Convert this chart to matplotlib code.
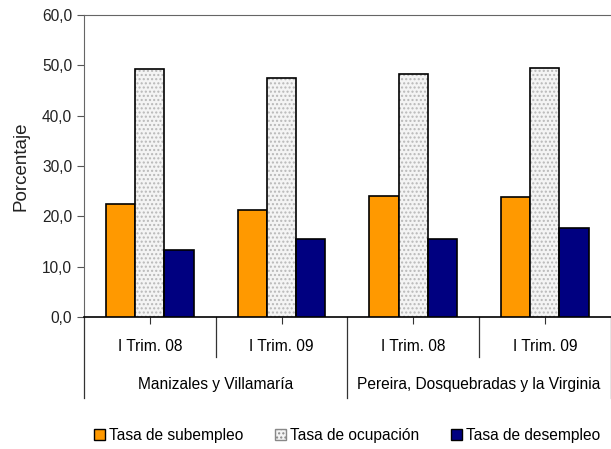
import matplotlib
matplotlib.use("Agg")
import matplotlib.pyplot as plt
from matplotlib.patches import Patch

plt.rcParams["font.family"] = ["Liberation Sans", "DejaVu Sans"]

periods = ["I Trim. 08", "I Trim. 09", "I Trim. 08", "I Trim. 09"]
regions = ["Manizales y Villamaría", "Pereira, Dosquebradas y la Virginia"]
subempleo = [22.4, 21.3, 24.1, 23.8]
ocupacion = [49.2, 47.5, 48.3, 49.5]
desempleo = [13.4, 15.4, 15.4, 17.6]
series_names = ["Tasa de subempleo", "Tasa de ocupación", "Tasa de desempleo"]

ORANGE = "#ff9900"
NAVY = "#000080"
W = 0.222
FS = 11.2

fig = plt.figure(figsize=(6.11, 4.49), dpi=100)
ax = fig.add_axes([0.1375, 0.294, 0.862, 0.673])

x = list(range(len(periods)))
ax.bar([i - W for i in x], subempleo, W, color=ORANGE, edgecolor="black", linewidth=1.2, zorder=3)
# dotted grey bar: hatch drawn first, outline on top
ax.bar(x, ocupacion, W, color="#f4f4f4", edgecolor="#b8b8b8", hatch="....", linewidth=0, zorder=3)
ax.bar(x, ocupacion, W, fill=False, edgecolor="black", linewidth=1.2, zorder=4)
ax.bar([i + W for i in x], desempleo, W, color=NAVY, edgecolor="black", linewidth=1.2, zorder=3)

ax.set_xlim(-0.5, len(periods) - 0.5)
ax.set_ylim(0, 60)
ax.set_yticks(range(0, 61, 10))
ax.set_yticklabels([f"{v},0" for v in range(0, 61, 10)], fontsize=FS, color="#222222")
ax.set_ylabel("Porcentaje", fontsize=13.5, labelpad=9, color="#222222")

ax.set_xticks(x)
ax.set_xticklabels([])
ax.tick_params(axis="x", length=5, color="#333333")
ax.tick_params(axis="y", length=5, color="#555555")

for s in ["left", "top", "right"]:
    ax.spines[s].set_color("#666666")
ax.spines["bottom"].set_color("black")
ax.spines["bottom"].set_linewidth(1.2)
ax.spines["right"].set_visible(False)

trans = ax.get_xaxis_transform()
for b, depth in [(-0.5, -0.268), (0.5, -0.1325), (1.5, -0.268), (2.5, -0.1325), (3.5, -0.268)]:
    ax.plot([b, b], [0, depth], transform=trans, color="#333333", lw=0.9, clip_on=False)

for i, p in enumerate(periods):
    ax.text(i, -0.099, p, transform=trans, ha="center", va="center", fontsize=FS)
for j, r in enumerate(regions):
    ax.text(2 * j + 0.5, -0.225, r, transform=trans, ha="center", va="center", fontsize=FS)

handles = [
    Patch(facecolor=ORANGE, edgecolor="black"),
    Patch(facecolor="#f4f4f4", edgecolor="#888888", hatch="...."),
    Patch(facecolor=NAVY, edgecolor="black"),
]
fig.legend(handles, series_names, loc="center", bbox_to_anchor=(0.568, 0.031), ncol=3,
           frameon=False, fontsize=FS, handlelength=0.7, handleheight=0.7,
           handletextpad=0.3, columnspacing=2.0)

fig.savefig("out.png", dpi=100)
